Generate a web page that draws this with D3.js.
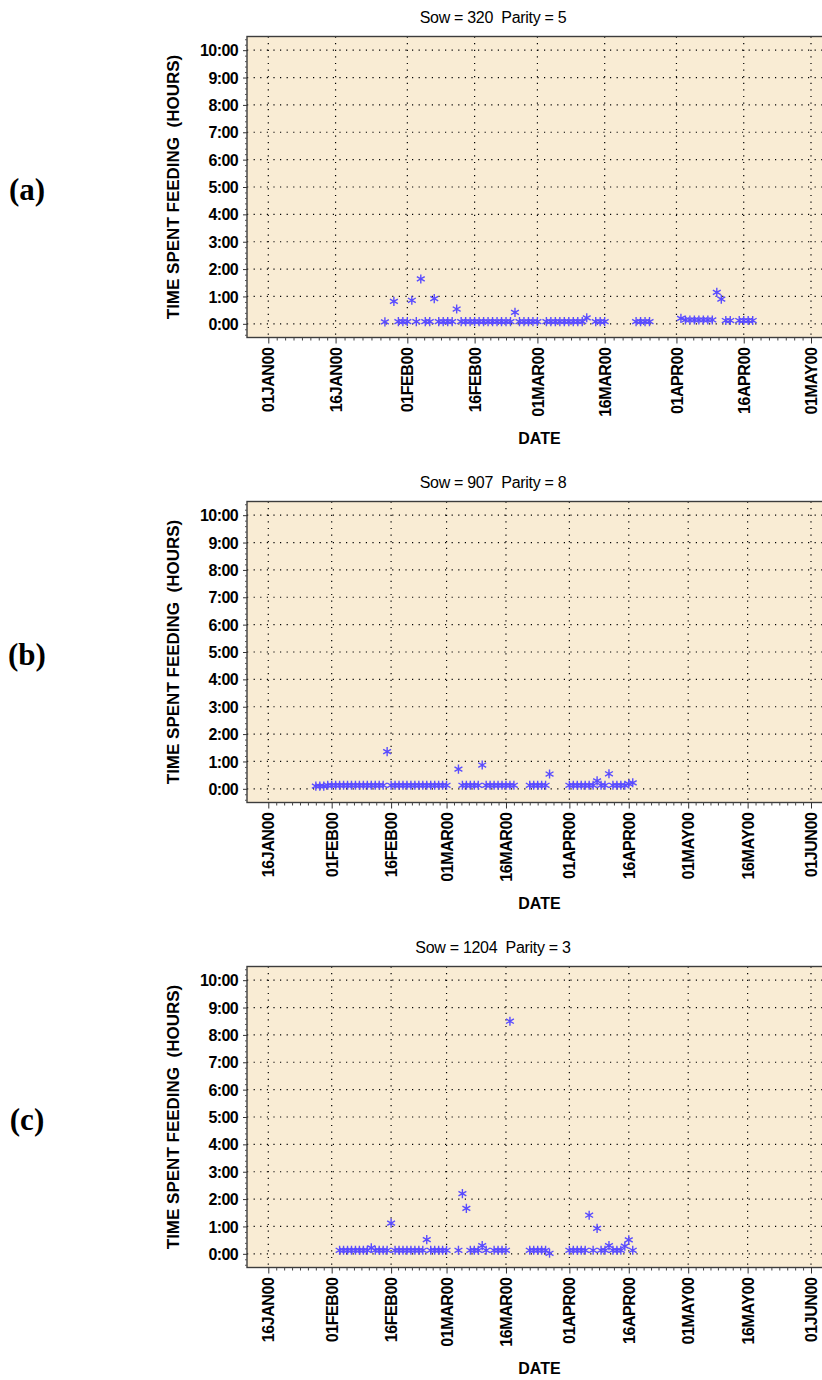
<!DOCTYPE html>
<html>
<head>
<meta charset="utf-8">
<script src="https://cdn.jsdelivr.net/npm/d3@7"></script>
<style>
body { margin: 0; background: #fff; }
svg { display: block; }
</style>
</head>
<body>
<svg id="chart" width="822" height="1380"></svg>
<script>
var panelLetters = ["(a)", "(b)", "(c)"];
var panelTitles = ["Sow = 320  Parity = 5", "Sow = 907  Parity = 8", "Sow = 1204  Parity = 3"];
var hourTicks = [0, 1, 2, 3, 4, 5, 6, 7, 8, 9, 10];

var ticksA = ["01JAN00","16JAN00","01FEB00","16FEB00","01MAR00","16MAR00","01APR00","16APR00","01MAY00"];
var ticksBC = ["16JAN00","01FEB00","16FEB00","01MAR00","16MAR00","01APR00","16APR00","01MAY00","16MAY00","01JUN00"];

// sow 320
var datesA = ["27JAN00","29JAN00","30JAN00","31JAN00","01FEB00","02FEB00","03FEB00","04FEB00","05FEB00","06FEB00",
  "07FEB00","08FEB00","09FEB00","10FEB00","11FEB00","12FEB00","13FEB00","14FEB00","15FEB00","16FEB00",
  "17FEB00","18FEB00","19FEB00","20FEB00","21FEB00","22FEB00","23FEB00","24FEB00","25FEB00","26FEB00",
  "27FEB00","28FEB00","29FEB00","01MAR00","03MAR00","04MAR00","05MAR00","06MAR00","07MAR00","08MAR00",
  "09MAR00","10MAR00","11MAR00","12MAR00","14MAR00","15MAR00","16MAR00","23MAR00","24MAR00","25MAR00",
  "26MAR00","02APR00","03APR00","04APR00","05APR00","06APR00","07APR00","08APR00","09APR00","10APR00",
  "11APR00","12APR00","13APR00","15APR00","16APR00","17APR00","18APR00"];
var hoursA = [0.07,0.82,0.08,0.08,0.08,0.86,0.08,1.64,0.08,0.08,
  0.92,0.08,0.08,0.08,0.08,0.54,0.08,0.08,0.08,0.08,
  0.08,0.08,0.08,0.08,0.08,0.08,0.08,0.08,0.42,0.08,
  0.08,0.08,0.08,0.08,0.08,0.08,0.08,0.08,0.08,0.08,
  0.08,0.08,0.08,0.22,0.08,0.08,0.08,0.08,0.08,0.08,
  0.08,0.20,0.14,0.14,0.14,0.14,0.14,0.14,0.14,1.15,
  0.90,0.12,0.12,0.12,0.12,0.12,0.12];

// sow 907
var datesB = ["28JAN00","29JAN00","30JAN00","31JAN00","01FEB00","02FEB00","03FEB00","04FEB00","05FEB00","06FEB00",
  "07FEB00","08FEB00","09FEB00","10FEB00","11FEB00","12FEB00","13FEB00","14FEB00","15FEB00","16FEB00",
  "17FEB00","18FEB00","19FEB00","20FEB00","21FEB00","22FEB00","23FEB00","24FEB00","25FEB00","26FEB00",
  "27FEB00","28FEB00","29FEB00","01MAR00","04MAR00","05MAR00","06MAR00","07MAR00","08MAR00","09MAR00",
  "10MAR00","11MAR00","12MAR00","13MAR00","14MAR00","15MAR00","16MAR00","17MAR00","18MAR00","22MAR00",
  "23MAR00","24MAR00","25MAR00","26MAR00","27MAR00","01APR00","02APR00","03APR00","04APR00","05APR00",
  "06APR00","07APR00","08APR00","09APR00","10APR00","11APR00","12APR00","13APR00","14APR00","15APR00",
  "16APR00","17APR00"];
var hoursB = [0.10,0.10,0.10,0.13,0.13,0.13,0.13,0.13,0.13,0.13,
  0.13,0.13,0.13,0.13,0.13,0.13,0.13,0.13,1.36,0.13,
  0.13,0.13,0.13,0.13,0.13,0.13,0.13,0.13,0.13,0.13,
  0.13,0.13,0.13,0.13,0.72,0.13,0.13,0.13,0.13,0.13,
  0.87,0.13,0.13,0.13,0.13,0.13,0.13,0.13,0.13,0.13,
  0.13,0.13,0.13,0.13,0.54,0.13,0.13,0.13,0.13,0.13,
  0.13,0.13,0.29,0.13,0.13,0.55,0.13,0.13,0.13,0.13,
  0.18,0.22];

// sow 1204
var datesC = ["03FEB00","04FEB00","05FEB00","06FEB00","07FEB00","08FEB00","09FEB00","10FEB00","11FEB00","12FEB00",
  "13FEB00","14FEB00","15FEB00","16FEB00","17FEB00","18FEB00","19FEB00","20FEB00","21FEB00","22FEB00",
  "23FEB00","24FEB00","25FEB00","26FEB00","27FEB00","28FEB00","29FEB00","01MAR00","04MAR00","05MAR00",
  "06MAR00","07MAR00","08MAR00","09MAR00","10MAR00","11MAR00","13MAR00","14MAR00","15MAR00","16MAR00",
  "17MAR00","22MAR00","23MAR00","24MAR00","25MAR00","26MAR00","27MAR00","01APR00","02APR00","03APR00",
  "04APR00","05APR00","06APR00","07APR00","08APR00","09APR00","10APR00","11APR00","12APR00","13APR00",
  "14APR00","15APR00","16APR00","17APR00"];
var hoursC = [0.13,0.13,0.13,0.13,0.13,0.13,0.13,0.13,0.22,0.13,
  0.13,0.13,0.13,1.12,0.13,0.13,0.13,0.13,0.13,0.13,
  0.13,0.13,0.52,0.13,0.13,0.13,0.13,0.13,0.13,2.20,
  1.66,0.13,0.13,0.13,0.30,0.13,0.13,0.13,0.13,0.13,
  8.50,0.13,0.13,0.13,0.13,0.13,0.02,0.13,0.13,0.13,
  0.13,0.13,1.41,0.13,0.93,0.13,0.13,0.30,0.13,0.13,
  0.13,0.28,0.51,0.13];

var panels = [
  { letter: panelLetters[0], title: panelTitles[0], ticks: ticksA, dates: datesA, hours: hoursA },
  { letter: panelLetters[1], title: panelTitles[1], ticks: ticksBC, dates: datesB, hours: hoursB },
  { letter: panelLetters[2], title: panelTitles[2], ticks: ticksBC, dates: datesC, hours: hoursC }
];

var parseDay = d3.utcParse("%d%b%y");
var formatDay = d3.utcFormat("%d%b%y");
var svg = d3.select("#chart");

var panelGap = 465;
var plotLeft = 247, plotRight = 832, plotTop = 36.5, plotBottom = 337.5;
var labelFont = "'Liberation Sans', Arial, Helvetica, sans-serif";
var starColor = "#5a4cff";
var star = d3.symbol().type(d3.symbolAsterisk).size(58);

panels.forEach(function(p, i) {
  var g = svg.append("g").attr("transform", "translate(0," + (i * panelGap) + ")");
  var tickDates = p.ticks.map(function(t) { return parseDay(t); });
  var x = d3.scaleUtc()
    .domain([tickDates[0], tickDates[tickDates.length - 1]])
    .range([268.3, 811]);
  var y = d3.scaleLinear().domain([-0.5, 10.5]).range([plotBottom, plotTop]);

  // plot background
  g.append("rect")
    .attr("x", plotLeft).attr("y", plotTop)
    .attr("width", plotRight - plotLeft).attr("height", plotBottom - plotTop)
    .attr("fill", "#f9ecd4");

  // dotted grid
  g.append("g").selectAll("line").data(tickDates).join("line")
    .attr("x1", function(d) { return x(d); }).attr("x2", function(d) { return x(d); })
    .attr("y1", plotTop).attr("y2", plotBottom)
    .attr("stroke", "#000").attr("stroke-width", 1.2).attr("stroke-dasharray", "1.2,5.4");
  g.append("g").selectAll("line").data(hourTicks).join("line")
    .attr("x1", plotLeft).attr("x2", plotRight)
    .attr("y1", function(d) { return y(d); }).attr("y2", function(d) { return y(d); })
    .attr("stroke", "#000").attr("stroke-width", 1.2).attr("stroke-dasharray", "1.2,5.4");

  // frame
  g.append("rect")
    .attr("x", plotLeft).attr("y", plotTop)
    .attr("width", plotRight - plotLeft).attr("height", plotBottom - plotTop)
    .attr("fill", "none").attr("stroke", "#3c3c3c").attr("stroke-width", 1.4);

  // y axis, minor then major
  var minorHours = d3.range(-0.4, 10.5, 0.2).filter(function(h) { return Math.abs(h - Math.round(h)) > 0.01; });
  g.append("g").attr("transform", "translate(" + plotLeft + ",0)")
    .call(d3.axisLeft(y).tickValues(minorHours).tickSize(2).tickFormat(""))
    .call(function(a) { a.select(".domain").remove(); a.selectAll("line").attr("stroke", "#555"); });
  var ya = g.append("g").attr("transform", "translate(" + plotLeft + ",0)")
    .call(d3.axisLeft(y).tickValues(hourTicks).tickSize(4).tickPadding(5)
      .tickFormat(function(h) { return h + ":00"; }));
  ya.select(".domain").remove();
  ya.attr("font-family", labelFont).attr("font-size", 16).attr("font-weight", "bold");
  ya.selectAll("line").attr("stroke", "#333");
  ya.selectAll("text").attr("fill", "#000").attr("letter-spacing", "-0.6px").attr("dy", "0.35em");

  // x axis, minor then major
  var minorDates = [];
  for (var k = 0; k < tickDates.length - 1; k++) {
    var a0 = tickDates[k].getTime(), a1 = tickDates[k + 1].getTime();
    for (var m = 1; m < 8; m++) minorDates.push(new Date(a0 + (a1 - a0) * m / 8));
  }
  g.append("g").attr("transform", "translate(0," + plotBottom + ")")
    .call(d3.axisBottom(x).tickValues(minorDates).tickSize(3).tickFormat(""))
    .call(function(a) { a.select(".domain").remove(); a.selectAll("line").attr("stroke", "#444"); });
  var xa = g.append("g").attr("transform", "translate(0," + plotBottom + ")")
    .call(d3.axisBottom(x).tickValues(tickDates).tickSize(6)
      .tickFormat(function(d) { return formatDay(d).toUpperCase(); }));
  xa.select(".domain").remove();
  xa.attr("font-family", labelFont).attr("font-size", 16).attr("font-weight", "bold");
  xa.selectAll("line").attr("stroke", "#333");
  xa.selectAll("text")
    .attr("fill", "#000")
    .attr("transform", "rotate(-90)")
    .attr("text-anchor", "end")
    .attr("x", -10).attr("y", 0).attr("dy", "0.35em")
    .attr("letter-spacing", "-0.4px");

  // stars
  g.append("g").selectAll("path").data(p.dates).join("path")
    .attr("d", star)
    .attr("transform", function(d, j) {
      return "translate(" + x(parseDay(d)) + "," + y(p.hours[j]) + ")";
    })
    .attr("fill", "none").attr("stroke", starColor).attr("stroke-width", 1.4);

  // texts
  g.append("text")
    .attr("x", 493).attr("y", 22.5)
    .attr("text-anchor", "middle")
    .attr("font-family", labelFont).attr("font-size", 16)
    .attr("letter-spacing", "-0.3px")
    .attr("xml:space", "preserve").style("white-space", "pre")
    .text(p.title);

  g.append("text")
    .attr("transform", "translate(173," + ((plotTop + plotBottom) / 2) + ") rotate(-90)")
    .attr("text-anchor", "middle").attr("dy", "0.35em")
    .attr("font-family", labelFont).attr("font-size", 17).attr("font-weight", "bold")
    .attr("xml:space", "preserve").style("white-space", "pre")
    .text("TIME SPENT FEEDING  (HOURS)");

  g.append("text")
    .attr("x", (plotLeft + plotRight) / 2).attr("y", 443.5)
    .attr("text-anchor", "middle")
    .attr("font-family", labelFont).attr("font-size", 16).attr("font-weight", "bold")
    .text("DATE");

  g.append("text")
    .attr("x", 27).attr("y", 200)
    .attr("text-anchor", "middle")
    .attr("font-family", "'Liberation Serif', 'Times New Roman', serif")
    .attr("font-size", 31).attr("font-weight", "bold")
    .text(p.letter);
});
</script>
</body>
</html>
